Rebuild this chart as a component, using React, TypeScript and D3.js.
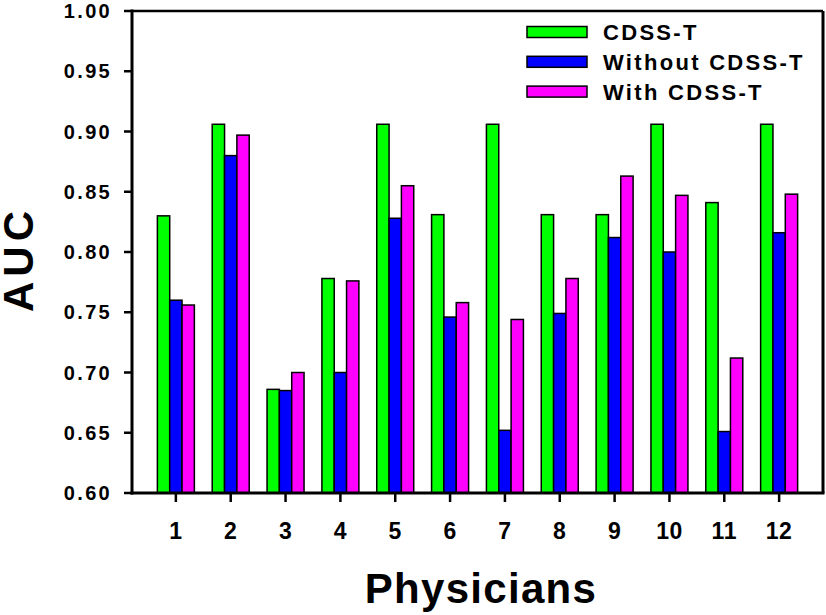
import React from "react";
import * as d3 from "d3";

const physicians = ["1", "2", "3", "4", "5", "6", "7", "8", "9", "10", "11", "12"];
const seriesNames = ["CDSS-T", "Without CDSS-T", "With CDSS-T"];
const cdssT = [0.83, 0.906, 0.686, 0.778, 0.906, 0.831, 0.906, 0.831, 0.831, 0.906, 0.841, 0.906];
const withoutCdssT = [0.76, 0.88, 0.685, 0.70, 0.828, 0.746, 0.652, 0.749, 0.812, 0.80, 0.651, 0.816];
const withCdssT = [0.756, 0.897, 0.70, 0.776, 0.855, 0.758, 0.744, 0.778, 0.863, 0.847, 0.712, 0.848];
const yTicks = [0.6, 0.65, 0.7, 0.75, 0.8, 0.85, 0.9, 0.95, 1.0];
const colors = ["#00ff00", "#0000ff", "#ff00ff"];

const W = 826;
const H = 615;
const left = 132;
const right = 823;
const top = 11;
const bottom = 493;
const FONT = "'Liberation Sans', Arial, Helvetica, sans-serif";

export default function App() {
  const series = [cdssT, withoutCdssT, withCdssT];
  const x = d3.scalePoint<string>().domain(physicians).range([left, right]).padding(0.8);
  const inner = d3.scaleBand<number>().domain([0, 1, 2]).range([-18.5, 18.5]).padding(0);
  const y = d3.scaleLinear().domain([0.6, 1.0]).range([bottom, top]);

  return (
    <svg
      width={W}
      height={H}
      style={{ position: "fixed", left: 0, top: 0, background: "#fff" }}
      fontFamily={FONT}
      fontWeight="bold"
    >
      <rect x={0} y={0} width={W} height={H} fill="#fff" />
      {/* bars */}
      {physicians.map((p, i) => (
        <g key={p} transform={`translate(${x(p)},0)`}>
          {series.map((s, k) => (
            <rect
              key={k}
              x={inner(k)!}
              y={y(s[i])}
              width={inner.bandwidth()}
              height={y(0.6) - y(s[i])}
              fill={colors[k]}
              stroke="#000"
              strokeWidth={1.5}
            />
          ))}
        </g>
      ))}
      {/* frame */}
      <line x1={left} x2={right} y1={top} y2={top} stroke="#000" strokeWidth={2.5} />
      <line x1={right} x2={right} y1={top} y2={bottom} stroke="#000" strokeWidth={3} />
      <line x1={left} x2={left} y1={top - 1.5} y2={bottom + 1.5} stroke="#000" strokeWidth={3} />
      <line x1={left - 1.5} x2={right + 1.5} y1={bottom} y2={bottom} stroke="#000" strokeWidth={3} />
      {/* y ticks */}
      {yTicks.map((t) => (
        <g key={t}>
          <line x1={left - 8} x2={left} y1={y(t)} y2={y(t)} stroke="#000" strokeWidth={2.5} />
          <text
            x={112}
            y={y(t)}
            dy="0.36em"
            textAnchor="end"
            fontSize={20}
            letterSpacing={2.3}
            fill="#000"
          >
            {t.toFixed(2)}
          </text>
        </g>
      ))}
      {/* x ticks */}
      {physicians.map((p) => (
        <g key={p}>
          <line x1={x(p)} x2={x(p)} y1={bottom} y2={bottom + 9} stroke="#000" strokeWidth={2.5} />
          <text x={x(p)} y={539} textAnchor="middle" fontSize={23} letterSpacing={0.5} fill="#000">
            {p}
          </text>
        </g>
      ))}
      {/* axis titles */}
      <text x={481} y={603} textAnchor="middle" fontSize={42} letterSpacing={1.3} fill="#000">
        Physicians
      </text>
      <text
        transform={`translate(33,259) rotate(-90)`}
        textAnchor="middle"
        fontSize={42}
        letterSpacing={5}
        fill="#000"
      >
        AUC
      </text>
      {/* legend */}
      {seriesNames.map((n, k) => (
        <g key={n} transform={`translate(527,${32 + k * 29.8})`}>
          <rect x={0} y={-5.5} width={60} height={11} fill={colors[k]} stroke="#000" strokeWidth={1.5} />
          <text x={76} y={0} dy="0.36em" fontSize={22} letterSpacing={2.3} fill="#000">
            {n}
          </text>
        </g>
      ))}
    </svg>
  );
}
